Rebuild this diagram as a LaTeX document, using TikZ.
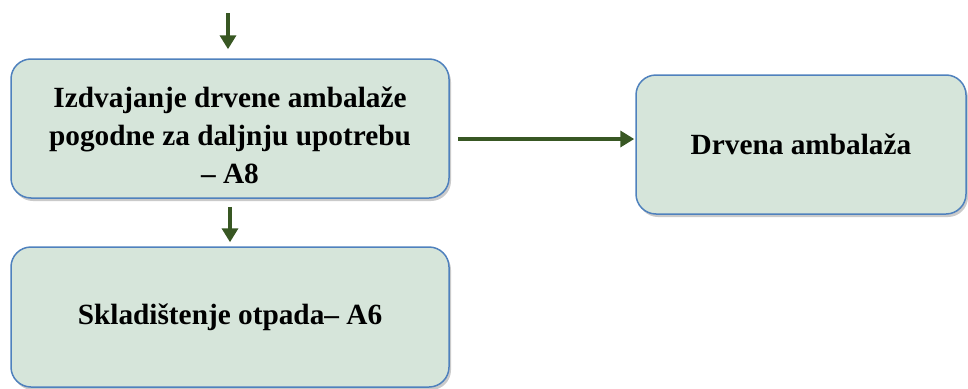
\documentclass[tikz,border=0pt]{standalone}
\usepackage{fontspec}
\setmainfont{Liberation Serif}
\usetikzlibrary{arrows.meta,shadows}
\definecolor{boxfill}{RGB}{214,229,218}
\definecolor{boxline}{RGB}{79,129,189}
\definecolor{arrowgreen}{RGB}{56,87,35}
\tikzset{
  procbox/.style={draw=boxline, line width=1.5pt, fill=boxfill, rounded corners=20pt,
    inner sep=0pt, drop shadow={shadow xshift=2pt, shadow yshift=-3pt, opacity=0.35, fill=black!60}},
  boxtext/.style={inner sep=0pt, align=center, font=\fontsize{29.3}{38}\selectfont\bfseries},
  flow/.style={draw=arrowgreen, line width=4.5pt, -{Triangle[width=16pt,length=14pt]}}
}
\begin{document}
\begin{tikzpicture}[x=1pt,y=-1pt]
\useasboundingbox (0,0) rectangle (968,388);
\node[procbox, minimum width=438pt, minimum height=139pt] (a8) at (230,128.5) {};
\node[boxtext] (a8t) at (230,135.5) {Izdvajanje drvene ambalaže\\pogodne za daljnju upotrebu\\– A8};
\node[procbox, minimum width=330pt, minimum height=139pt] (amb) at (801,144.5) {};
\node[boxtext] (ambt) at (amb.center) {Drvena ambalaža};
\node[procbox, minimum width=438pt, minimum height=140pt] (a6) at (230,317) {};
\node[boxtext] (a6t) at (a6.center) {Skladištenje otpada– A6};
\coordinate (top) at (228,13);
\coordinate (ry) at (0,139);
\draw[flow, shorten >=9pt] (top) -- (top |- a8.north);
\draw[flow, shorten <=8pt, shorten >=4pt] (a8.south) -- (a6.north);
\draw[flow, shorten <=8pt, shorten >=1pt] (a8.east |- ry) -- (amb.west |- ry);
\end{tikzpicture}
\end{document}
